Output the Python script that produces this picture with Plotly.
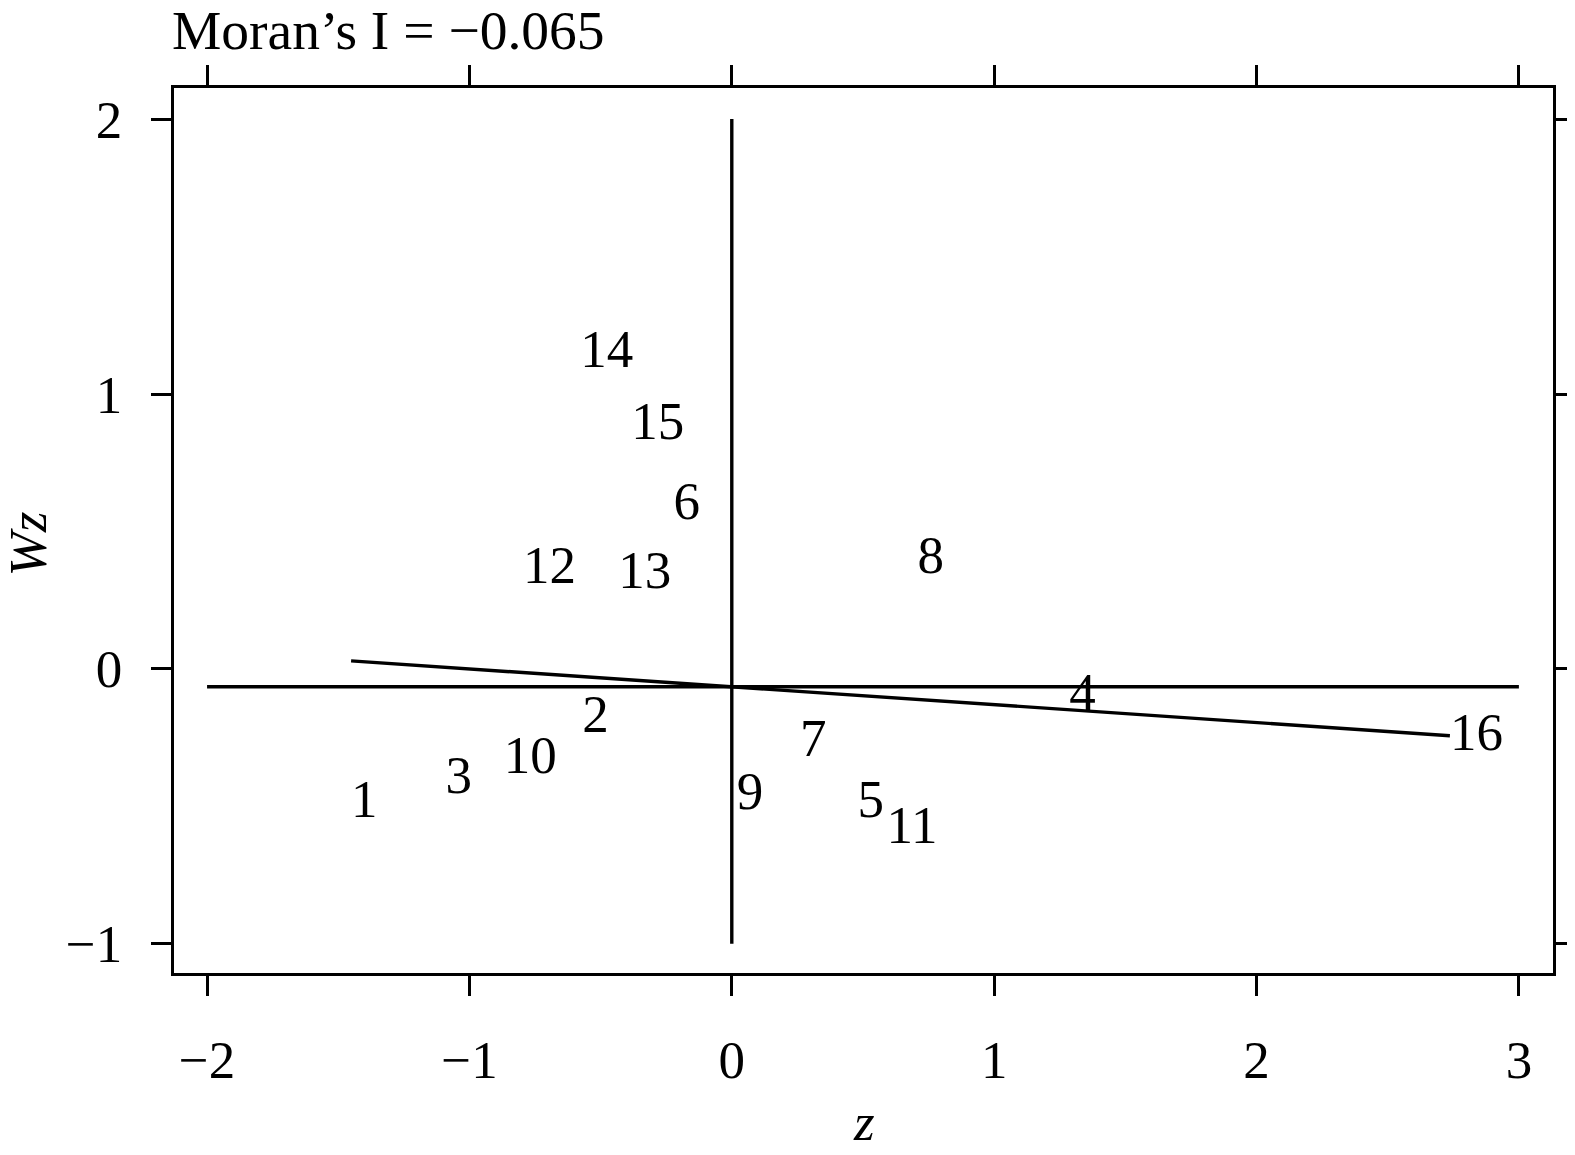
import plotly.graph_objects as go

# Data (standardized z and spatial lag Wz)
ids = ["1", "2", "3", "4", "5", "6", "7", "8", "9", "10", "11", "12", "13", "14", "15", "16"]
z = [-1.451, -0.570, -1.091, 1.286, 0.479, -0.222, 0.260, 0.708, 0.019, -0.869, 0.590, -0.796, -0.433, -0.578, -0.383, 2.737]
wz = [-0.490, -0.183, -0.402, -0.102, -0.490, 0.592, -0.270, 0.398, -0.460, -0.332, -0.585, 0.362, 0.343, 1.147, 0.884, -0.245]

moran_I = -0.065
intercept = -0.065
hline_y = -0.065
hline_x = [-2, 3]
vline_x = 0
vline_y = [-1, 2]

xticks = [-2, -1, 0, 1, 2, 3]
yticks = [-1, 0, 1, 2]
xtick_text = ["\u22122", "\u22121", "0", "1", "2", "3"]
ytick_text = ["\u22121", "0", "1", "2"]

FONT = "Liberation Serif"
fs = 53
lw = 3.4

zmin, zmax = min(z), max(z)
reg_x = [zmin, zmax]
reg_y = [intercept + moran_I * zmin, intercept + moran_I * zmax]

fig = go.Figure()
fig.add_trace(go.Scatter(x=hline_x, y=[hline_y, hline_y], mode="lines",
                         line=dict(color="black", width=lw), hoverinfo="skip"))
fig.add_trace(go.Scatter(x=[vline_x, vline_x], y=vline_y, mode="lines",
                         line=dict(color="black", width=lw), hoverinfo="skip"))
fig.add_trace(go.Scatter(x=reg_x, y=reg_y, mode="lines",
                         line=dict(color="black", width=lw), hoverinfo="skip"))
fig.add_trace(go.Scatter(x=z, y=wz, mode="text", text=ids,
                         textposition="middle right",
                         textfont=dict(family=FONT, size=fs, color="black")))

axis_common = dict(showline=True, linecolor="black", linewidth=lw, mirror="ticks",
                   ticks="outside", ticklen=20, tickwidth=lw, tickcolor="black",
                   showgrid=False, zeroline=False, automargin=False,
                   ticklabelstandoff=18,
                   tickfont=dict(family=FONT, size=fs, color="black"))

fig.update_layout(
    width=1567, height=1147,
    margin=dict(l=166, r=22, t=80, b=182, autoexpand=False),
    plot_bgcolor="white", paper_bgcolor="white",
    showlegend=False,
    xaxis=dict(range=[-2.126, 3.130], tickvals=xticks, ticktext=xtick_text, **axis_common),
    yaxis=dict(range=[-1.106, 2.113], tickvals=yticks, ticktext=ytick_text, **axis_common),
    annotations=[
        dict(text="Moran\u2019s I = \u22120.065", xref="paper", yref="paper", x=0, y=1,
             xanchor="left", yanchor="middle", yshift=58, xshift=-4, showarrow=False,
             font=dict(family=FONT, size=55.5, color="black")),
        dict(text="<i>z</i>", xref="paper", yref="paper", x=0.5, y=0,
             xanchor="center", yanchor="middle", yshift=-149, showarrow=False,
             height=40, valign="middle",
             font=dict(family=FONT, size=fs, color="black")),
        dict(text="<i>Wz</i>", xref="paper", yref="paper", x=0, y=0.5,
             xanchor="center", yanchor="middle", xshift=-147, yshift=-14, textangle=-90,
             showarrow=False, font=dict(family=FONT, size=fs, color="black")),
    ],
)

fig.write_html("out.html")
